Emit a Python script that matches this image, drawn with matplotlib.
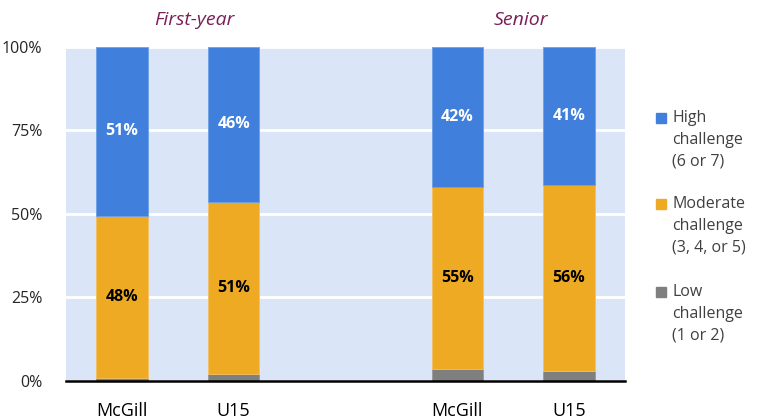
import numpy as np
import matplotlib.pyplot as plt
from matplotlib.patches import Rectangle
from matplotlib.transforms import blended_transform_factory

plt.rcParams['font.family'] = ['Open Sans', 'DejaVu Sans']

# data (percent of students)
groups = ['First-year', 'Senior']
bar_labels = ['McGill', 'U15', 'McGill', 'U15']
positions = [0, 1, 3, 4]
low = [1.0, 2.2, 3.6, 3.0]
moderate = [48.4, 51.4, 54.6, 55.7]
high = [50.6, 46.4, 41.8, 41.3]
yticks = [0, 25, 50, 75, 100]
legend_labels = ['High\nchallenge\n(6 or 7)', 'Moderate\nchallenge\n(3, 4, or 5)', 'Low\nchallenge\n(1 or 2)']

c_high = '#4080DC'
c_mod = '#EEAA22'
c_low = '#7F7F7F'
txt = '#262626'

fig = plt.figure(figsize=(7.72, 4.19), dpi=100)
ax = fig.add_axes([0.0855, 0.091, 0.724, 0.797])
ax.set_facecolor('#DAE6F7')

low = np.array(low)
moderate = np.array(moderate)
high = np.array(high)
w = 0.46
ax.bar(positions, low, w, color=c_low, edgecolor='#9a9a9a', linewidth=0.6, zorder=3)
ax.bar(positions, moderate, w, bottom=low, color=c_mod, edgecolor='#f3c060', linewidth=0.6, zorder=3)
ax.bar(positions, high, w, bottom=low + moderate, color=c_high, edgecolor='#6d9fe6', linewidth=0.6, zorder=3)

for x, l, m, h in zip(positions, low, moderate, high):
    ax.text(x, l + m / 2, '%d%%' % round(m), ha='center', va='center',
            fontsize=11.5, fontweight='bold', color='black', zorder=4)
    ax.text(x, l + m + h / 2, '%d%%' % round(h), ha='center', va='center',
            fontsize=11.5, fontweight='bold', color='white', zorder=4)

ax.set_xlim(-0.5, 4.5)
ax.set_ylim(0, 100)
ax.set_yticks(yticks)
ax.set_yticklabels(['%d%%' % t for t in yticks], fontsize=11.5, color=txt)
ax.set_xticks(positions)
ax.set_xticklabels(bar_labels, fontsize=13, color='black')
ax.tick_params(axis='both', length=0)
ax.tick_params(axis='y', pad=17)
ax.tick_params(axis='x', pad=15)
ax.grid(axis='y', color='white', linewidth=2, zorder=1)
for s in ['top', 'right', 'left']:
    ax.spines[s].set_visible(False)
ax.spines['bottom'].set_linewidth(1.8)
ax.spines['bottom'].set_color('black')
ax.spines['bottom'].set_zorder(5)

trans = blended_transform_factory(ax.transData, fig.transFigure)
ax.text(0.65, 0.952, groups[0], transform=trans, ha='center', va='center',
        fontsize=14, style='italic', color='#7A1E58')
ax.text(3.57, 0.952, groups[1], transform=trans, ha='center', va='center',
        fontsize=14, style='italic', color='#7A1E58')

# legend drawn by hand so the swatch sits on the first line
leg_colors = [c_high, c_mod, c_low]
leg_y = [118, 204, 292]
for lab, col, yy in zip(legend_labels, leg_colors, leg_y):
    fig.patches.append(Rectangle((656 / 772, 1 - (yy + 5) / 419), 10 / 772, 10 / 419,
                                 transform=fig.transFigure, color=col))
    fig.text(672 / 772, 1 - (yy - 8) / 419, lab, ha='left', va='top',
             fontsize=11.5, color='#404040', linespacing=1.48)

fig.savefig('out.png', dpi=100)
